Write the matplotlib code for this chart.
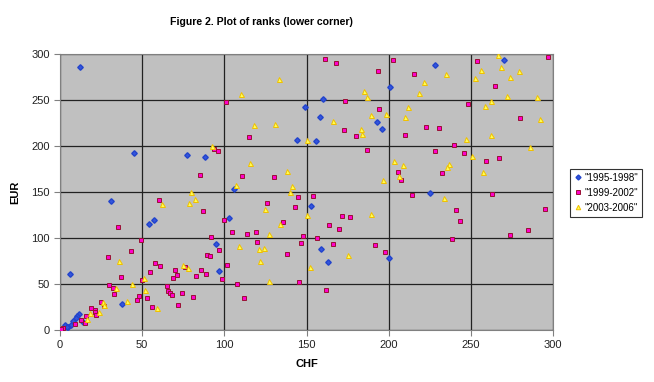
import matplotlib
matplotlib.use("Agg")
import matplotlib.pyplot as plt

plt.rcParams['font.family'] = ['Liberation Sans', 'DejaVu Sans']

# === Data ===
x_9598 = [12, 45, 77, 88, 31, 57, 54, 95, 97, 6, 38, 11.4, 10.5, 9.9, 7.9, 13.8, 6.7, 5.1, 3.2, 4.3,
          160, 149, 201, 158, 193, 196, 144, 156, 106, 103, 153, 159, 200, 163, 228, 270, 225]
y_9598 = [286, 192, 190, 188, 140, 120, 115, 94, 64, 61, 28, 17.4, 15, 13, 9.4, 8.7, 5.4, 3.3, 5.8, 2.9,
          251, 242, 264, 232, 226, 219, 206, 205, 153, 122, 135, 88, 78, 74, 288, 294, 149]

x_9902 = [60, 93.5, 96, 85, 87, 35, 49, 92, 97, 43, 29, 58, 61, 70, 76, 55, 89.5, 91, 89, 83, 71, 69, 37, 50,
          30, 32, 33, 53, 65, 66, 67, 68, 74, 48, 47, 72, 81, 56, 25, 27, 19, 21, 21.5, 22, 16, 13, 15, 9,
          1.8, 0.6,
          161, 168, 202.5, 193.5, 215.5, 101, 173.5, 194, 173, 180, 210, 115, 187, 111, 130, 145, 154,
          205.5, 207.4, 214,
          126, 143, 171.6, 176.5, 99.6, 136, 163.5, 170, 104.5, 113.6, 119, 147.7, 156.4, 146.7, 120,
          166.4, 191.5, 197.6, 138, 101.6, 85.8, 98.6, 107.7, 145.5, 161.7, 111.8,
          297, 254, 265, 248, 280, 222.6, 230.5, 240, 228, 246, 259.5, 267, 232.5, 263, 295, 241, 243.5,
          285, 274, 238.6]
y_9902 = [141, 197, 195, 169, 129, 112, 98, 101, 87, 86, 79, 73, 70, 65, 68, 63, 81, 80, 61, 59, 60, 56, 58, 54,
          49, 46, 39, 35, 48, 42, 40, 38, 40, 37, 33, 27, 36, 25, 30, 26, 23.5, 22, 19.5, 16, 15, 11, 8, 7,
          2.5, 0.7,
          295, 290, 293, 282, 278, 248, 249, 240, 217, 210.5, 212, 210, 196, 167, 166, 145, 146,
          172, 163, 147,
          138, 134, 124, 123, 120, 117, 114, 110, 107, 104, 106, 102, 100, 95, 96,
          93, 92, 85, 83, 71, 65.6, 55, 50, 52.5, 44, 34.4,
          297, 292, 265, 246, 230, 221, 220, 201.5, 195, 192, 184, 187, 171, 148, 132, 130, 118,
          109, 103, 99]

x_0306 = [92.7, 80, 62, 78.7, 82, 36, 75, 78, 51, 34, 44, 52, 59, 41, 26, 27, 24, 18, 16.6,
          133, 110, 185, 187, 218.5, 189.5, 198.4, 210, 212, 183, 184, 166, 118, 131, 150.5, 115.6, 138,
          107, 141, 140, 203.5, 209, 206.5, 196.4,
          125, 150, 189, 134, 127, 109, 121, 124, 175.5, 122, 152, 127.4,
          266.6, 235, 256, 268.6, 279.4, 273.7, 252.6, 221.4, 272, 290, 262, 258.5, 292, 262.5, 247, 286,
          250.6, 237, 235.5, 257.6, 233.5]
y_0306 = [200, 150, 137, 138, 142, 75, 71, 67, 56, 46, 50, 43, 24, 31.5, 30, 27, 20, 18, 12.3,
          272.5, 256, 260, 253, 258, 234, 235, 232, 242, 218, 213, 227, 222.5, 224, 207, 181, 173,
          158, 157, 150, 184, 179, 167, 163.4,
          132, 125, 126, 115, 104, 91, 88, 89, 81, 75, 69, 53.6,
          298.6, 278, 283, 286, 282, 275, 273.4, 270, 254, 253, 249, 243, 229, 212, 208, 199,
          189.5, 180, 177, 172, 143.5]

labels = ['"1995-1998"', '"1999-2002"', '"2003-2006"']

# === Figure ===
fig = plt.figure(figsize=(6.54, 3.82), dpi=100)
ax = fig.add_axes([60 / 654, 52 / 382, 493 / 654, 276 / 382])
ax.set_facecolor('#C0C0C0')

ax.plot(x_9598, y_9598, linestyle='none', marker='D', markersize=2.8,
        color='#3355DD', markeredgecolor='#2244CC', label=labels[0], zorder=3)
ax.plot(x_9902, y_9902, linestyle='none', marker='s', markersize=3.5,
        color='#FF00CC', markeredgecolor='#991133', markeredgewidth=0.7, label=labels[1], zorder=3)
ax.plot(x_0306, y_0306, linestyle='none', marker='^', markersize=3.6,
        color='#FFFF55', markeredgecolor='#F0C000', markeredgewidth=0.7, label=labels[2], zorder=3)

ax.set_xlim(0, 300)
ax.set_ylim(0, 300)
ax.set_xticks(range(0, 301, 50))
ax.set_yticks(range(0, 301, 50))
ax.grid(True, color='#222222', linewidth=0.9, zorder=1)
ax.set_axisbelow(True)
for s in ax.spines.values():
    s.set_color('#808080')
ax.tick_params(direction='out', length=4, color='#808080', labelsize=8, labelcolor='#222222')

ax.set_xlabel('CHF', fontsize=8, fontweight='bold', labelpad=6)
ax.set_ylabel('EUR', fontsize=8, fontweight='bold', labelpad=8)

fig.text(261 / 654, 1 - 22 / 382, 'Figure 2. Plot of ranks (lower corner)',
         ha='center', va='center', fontsize=7.6, fontweight='bold')

leg = ax.legend(loc='upper left', bbox_to_anchor=(570 / 654, 1 - 169 / 382),
                bbox_transform=fig.transFigure, fontsize=7, frameon=True, fancybox=False,
                borderpad=0.4, handlelength=0.8, handletextpad=0.3, labelspacing=0.5,
                markerscale=0.9, borderaxespad=0)
leg.get_frame().set_edgecolor('black')
leg.get_frame().set_linewidth(0.8)

plt.savefig('out.png', dpi=100)
